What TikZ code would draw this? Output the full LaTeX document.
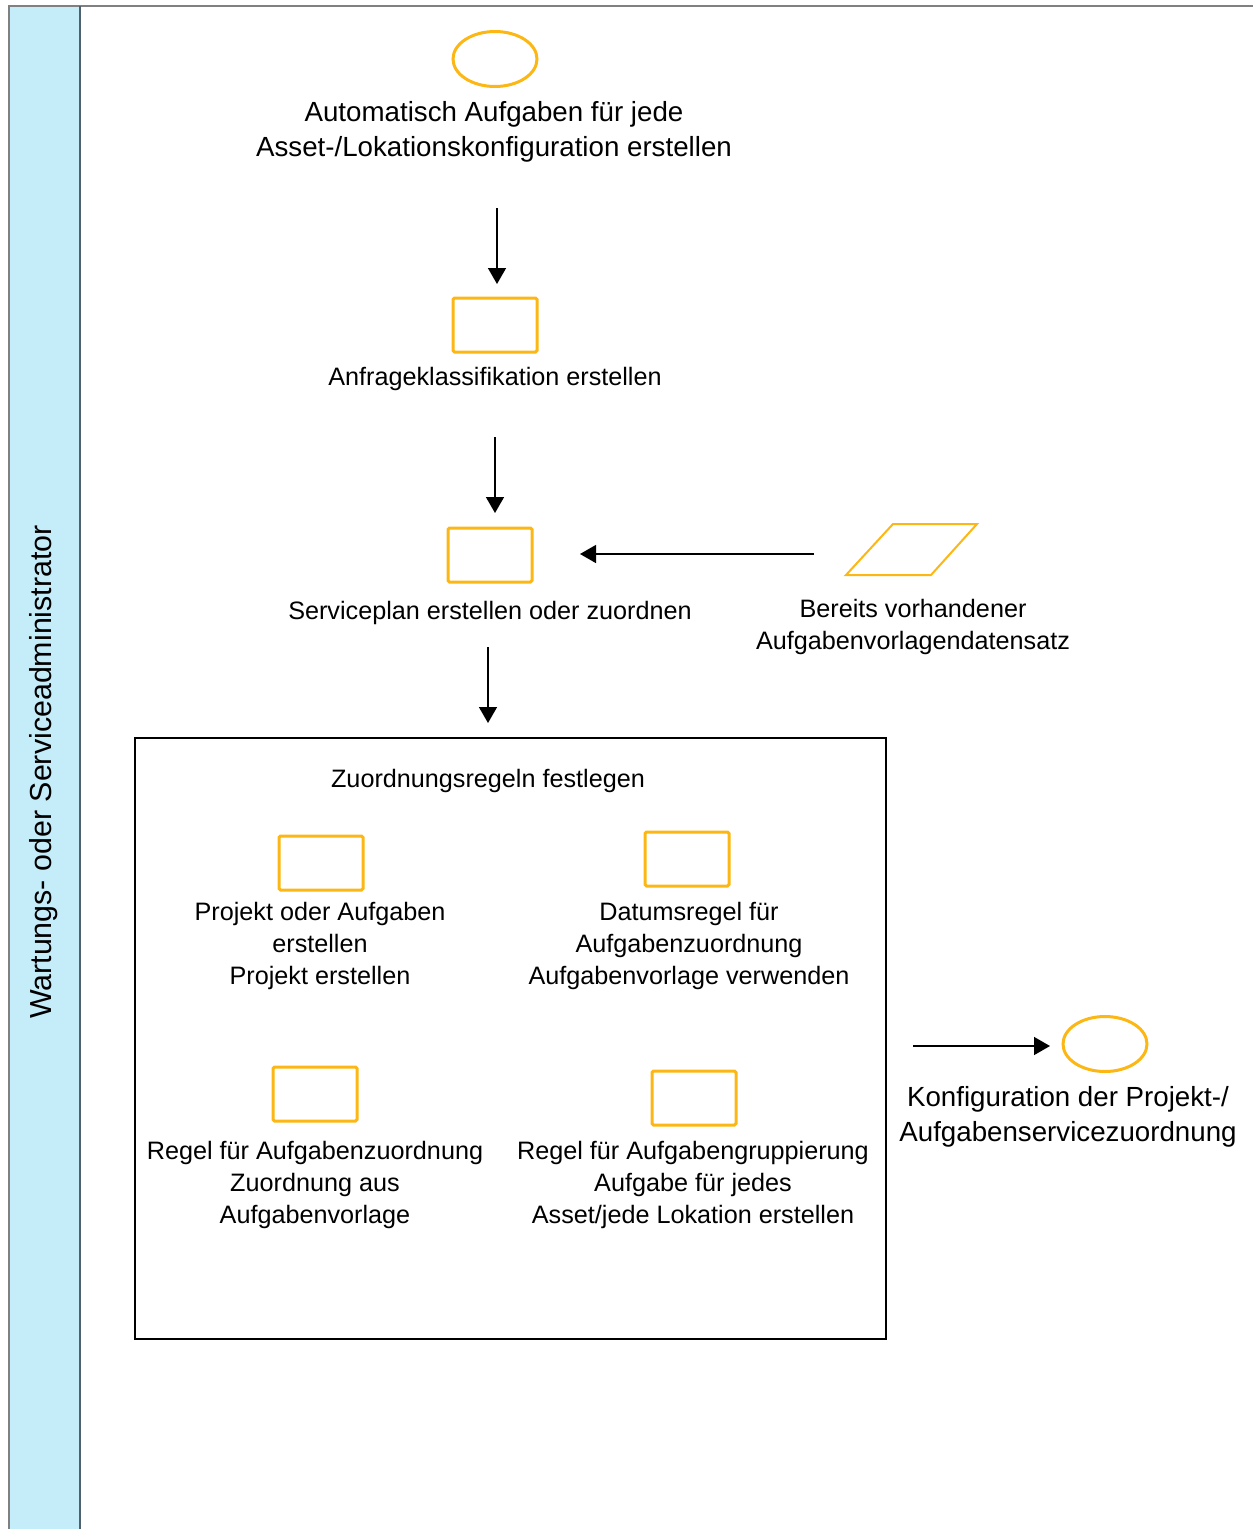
\documentclass[tikz,border=0pt]{standalone}
\usepackage{fontspec}
\setmainfont{Liberation Sans}
\usetikzlibrary{arrows.meta,shapes.geometric}
\definecolor{amber}{RGB}{252,183,20}
\definecolor{lanefill}{RGB}{196,236,249}
\definecolor{laneline}{RGB}{80,96,108}
\begin{document}
\begin{tikzpicture}[x=1pt,y=-1pt,
  evt/.style={draw=amber,line width=3pt,ellipse,minimum width=84pt,minimum height=55pt,inner sep=0pt},
  task/.style={draw=amber,line width=3pt,rounded corners=1.5pt,minimum width=84pt,minimum height=54pt,inner sep=0pt},
  biglbl/.style={align=center,font=\fontsize{27.7}{35}\selectfont,inner sep=0pt},
  lbl/.style={align=center,font=\fontsize{25.2}{32}\selectfont,inner sep=0pt},
  flow/.style={line width=1.5pt,-{Triangle[length=16pt,width=18pt]}}]
\useasboundingbox (0,0) rectangle (1253,1529);
% swimlane
\fill[lanefill] (9,6) rectangle (80,1529);
\draw[gray,line width=2pt] (9,1529) -- (9,6) -- (1253,6);
\draw[laneline,line width=1.5pt] (80,6) -- (80,1529);
\node[rotate=90,font=\fontsize{30.4}{35}\selectfont,inner sep=0pt] (lane) at (44,772) {Wartungs- oder Serviceadministrator};

% start event
\node[evt] (start) at (495,59) {};
\node[biglbl] (startlbl) at (494,132) {Automatisch Aufgaben für jede\\Asset-/Lokationskonfiguration erstellen};

% tasks in sequence
\node[task] (t1) at (495,325) {};
\node[lbl] (t1lbl) at (495,379) {Anfrageklassifikation erstellen};
\node[task] (t2) at (490,555) {};
\node[lbl] (t2lbl) at (490,613) {Serviceplan erstellen oder zuordnen};

% data object
\draw[amber,line width=2pt,line join=miter] (846,575) -- (931,575) -- (977,524) -- (893,524) -- cycle;
\coordinate (data) at (911,550);
\node[lbl] (datalbl) at (913,627) {Bereits vorhandener\\Aufgabenvorlagendatensatz};

% sub-process frame
\node[draw,line width=2pt,minimum width=751pt,minimum height=601pt,inner sep=0pt] (sub) at (510.5,1038.5) {};
\node[lbl] (sublbl) at (488,781) {Zuordnungsregeln festlegen};

\node[task] (ta) at (321,863) {};
\node[lbl] (talbl) at (320,946) {Projekt oder Aufgaben\\erstellen\\Projekt erstellen};
\node[task] (tb) at (687,859) {};
\node[lbl] (tblbl) at (689,946) {Datumsregel für\\Aufgabenzuordnung\\Aufgabenvorlage verwenden};
\node[task] (tc) at (315,1094) {};
\node[lbl] (tclbl) at (315,1185) {Regel für Aufgabenzuordnung\\Zuordnung aus\\Aufgabenvorlage};
\node[task] (td) at (694,1098) {};
\node[lbl] (tdlbl) at (693,1185) {Regel für Aufgabengruppierung\\Aufgabe für jedes\\Asset/jede Lokation erstellen};

% end event
\node[evt] (end) at (1105,1044) {};
\node[biglbl] (endlbl) at (1068,1117) {Konfiguration der Projekt-/\\Aufgabenservicezuordnung};

% connector end points
\coordinate (a1s) at (497,208);
\coordinate (a1e) at (497,284);
\coordinate (a2s) at (495,437);
\coordinate (a2e) at (495,513);
\coordinate (a3s) at (814,554);
\coordinate (a3e) at (580,554);
\coordinate (a4s) at (488,647);
\coordinate (a4e) at (488,723);
\coordinate (a5s) at (913,1046);
\coordinate (a5e) at (1050,1046);

\draw[flow] (a1s) -- (a1e);
\draw[flow] (a2s) -- (a2e);
\draw[flow] (a3s) -- (a3e);
\draw[flow] (a4s) -- (a4e);
\draw[flow] (a5s) -- (a5e);
\end{tikzpicture}
\end{document}
